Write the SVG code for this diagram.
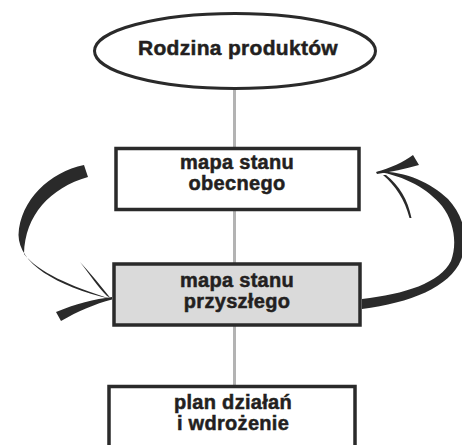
<svg xmlns="http://www.w3.org/2000/svg" width="462" height="445" viewBox="0 0 462 445">
<style>
.box{stroke:#2a2a2a;stroke-width:3.5;fill:#ffffff}
.grey{fill:#dadada}
.t{font-family:"Liberation Sans",Arial,sans-serif;font-weight:bold;font-size:20px;letter-spacing:0.3px;fill:#231f20;stroke:#231f20;stroke-width:0.5;text-anchor:middle}
.brush{fill:#2a2a2a;stroke:none}
</style>
<rect width="462" height="445" fill="#ffffff"/>
<g id="connectors">
<line x1="234.5" y1="88" x2="234.5" y2="387" stroke="#b3b3b3" stroke-width="3"/>
<path class="brush" d="M84,165 C50,172 20,200 18.5,235 C19,263 55,286 111,299 C70,286 38,272 24,254 C25,215 50,188 88,177 Z"/>
<path class="brush" d="M112,297 C95,299 75,304 56,312 L61,321 C78,311 95,304 112,299.5 Z"/>
<path class="brush" d="M80,262 C90,275 98,287 107,296 L110,297.5 C101,286 90,273 80,262 Z"/>
<path class="brush" d="M362,309 C410,303 450,287 461,260 C470,236 462,214 448,199 C430,182 405,171 377,171.5 C405,176 428,189 442,206 C455,223 457,245 451,261 C440,283 405,294 362,299 Z"/>
<path class="brush" d="M376,172 C390,168 404,162 413,155 L419,165 C405,169 391,172 377,174 Z"/>
<path class="brush" d="M383,175 C395,185 405,200 409.5,218 L411.5,218 C408,200 399,185 386,175 Z"/>
</g>
<g id="rodzina">
<ellipse cx="235" cy="51" rx="140.5" ry="37.5" fill="#ffffff" stroke="#2a2a2a" stroke-width="3"/>
<text class="t" x="238" y="55" style="font-size:21px">Rodzina produktów</text>
</g>
<g id="obecny">
<rect class="box" x="116" y="148.5" width="243" height="61"/>
<text class="t" x="237" y="169">mapa stanu</text>
<text class="t" x="237" y="190">obecnego</text>
</g>
<g id="przyszly">
<rect class="box grey" x="114" y="264" width="246" height="61"/>
<text class="t" x="237" y="287">mapa stanu</text>
<text class="t" x="237" y="308">przyszłego</text>
</g>
<g id="plan">
<rect class="box" x="109" y="386.5" width="246" height="80"/>
<text class="t" x="233" y="408.5">plan działań</text>
<text class="t" x="233" y="430">i wdrożenie</text>
</g>
</svg>
